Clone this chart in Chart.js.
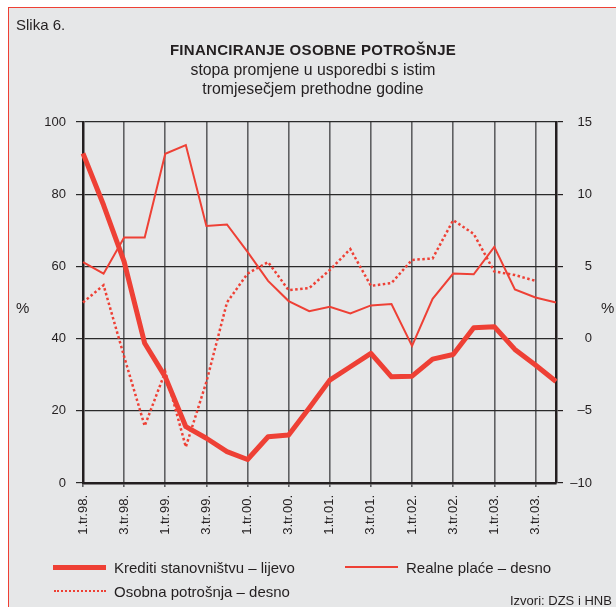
<!DOCTYPE html>
<html>
<head>
<meta charset="utf-8">
<script src="https://cdn.jsdelivr.net/npm/chart.js@4"></script>
<style>
  html, body { margin: 0; padding: 0; background: #fff; }
  #page { position: relative; width: 616px; height: 607px; overflow: hidden; font-family: "Liberation Sans", Arial, sans-serif; color: #231f20; }
  #frame { position: absolute; left: 8px; top: 7px; width: 640px; height: 640px; background: #e6e7e8; border-left: 1px solid #ee4035; border-top: 1px solid #ee4035; }
  canvas { position: absolute; left: 0; top: 0; }
  .t { position: absolute; white-space: nowrap; line-height: 1; }
  .c { left: 0; width: 626px; text-align: center; }
  .s { position: absolute; }
</style>
</head>
<body>
<div id="page">
  <div id="frame"></div>
  <canvas id="chart" width="616" height="607"></canvas>

  <div class="t" style="left:16px; top:17px; font-size:15px;">Slika 6.</div>
  <div class="t c" style="top:42px; font-size:15px; font-weight:bold; letter-spacing:0.3px;">FINANCIRANJE OSOBNE POTROŠNJE</div>
  <div class="t c" style="top:62px; font-size:15.8px;">stopa promjene u usporedbi s istim</div>
  <div class="t c" style="top:81px; font-size:15.8px;">tromjesečjem prethodne godine</div>

  <div class="t" style="left:16px; top:300px; font-size:15px;">%</div>
  <div class="t" style="left:601px; top:300px; font-size:15px;">%</div>

  <!-- legenda -->
  <div class="s" style="left:53px; top:565px; width:53px; height:5px; background:#ee4035;"></div>
  <div class="t" style="left:114px; top:560px; font-size:15px;">Krediti stanovništvu – lijevo</div>
  <div class="s" style="left:345px; top:566px; width:53px; height:2px; background:#ee4035;"></div>
  <div class="t" style="left:406px; top:560px; font-size:15px;">Realne plaće – desno</div>
  <div class="s" style="left:54px; top:590px; width:52px; height:0; border-top:2.5px dotted #ee4035;"></div>
  <div class="t" style="left:114px; top:584px; font-size:15px;">Osobna potrošnja – desno</div>
  <div class="t" style="left:510px; top:594px; font-size:13px;">Izvori: DZS i HNB</div>
</div>

<script>
// --- podaci (očitano sa slike) ---
const QUARTERS = [
    '1.tr.98.', '2.tr.98.', '3.tr.98.', '4.tr.98.',
    '1.tr.99.', '2.tr.99.', '3.tr.99.', '4.tr.99.',
    '1.tr.00.', '2.tr.00.', '3.tr.00.', '4.tr.00.',
    '1.tr.01.', '2.tr.01.', '3.tr.01.', '4.tr.01.',
    '1.tr.02.', '2.tr.02.', '3.tr.02.', '4.tr.02.',
    '1.tr.03.', '2.tr.03.', '3.tr.03.', '4.tr.03.'
];

// Krediti stanovništvu – lijeva os (%)
const KREDITI = [91.3, 77.0, 61.3, 38.7, 29.4, 15.6, 12.4, 8.7, 6.5, 12.8, 13.3, 20.8,
                 28.5, 32.2, 35.9, 29.4, 29.6, 34.3, 35.6, 43.0, 43.3, 37.0, 32.7, 28.1];

// Realne plaće – desna os (%)
const PLACE = [5.3, 4.5, 7.0, 7.0, 12.8, 13.4, 7.8, 7.9, 6.0, 4.0, 2.6, 1.9,
               2.2, 1.75, 2.3, 2.4, -0.5, 2.75, 4.5, 4.45, 6.35, 3.4, 2.85, 2.5];

// Osobna potrošnja – desna os (%)
const POTROSNJA = [2.5, 3.7, -1.25, -6.05, -2.3, -7.5, -3.0, 2.5, 4.5, 5.3, 3.35, 3.5,
                   4.75, 6.2, 3.65, 3.85, 5.45, 5.55, 8.2, 7.25, 4.65, 4.4, 4.0, null];

const LEFT_TICKS = { min: 0, max: 100, step: 20 };
const RIGHT_TICKS = { min: -10, max: 15, step: 5 };

const RED = '#ee4035';
const INK = '#231f20';
const FONT = '"Liberation Sans", Arial, sans-serif';

const ctx = document.getElementById('chart').getContext('2d');
new Chart(ctx, {
    type: 'line',
    data: {
        labels: QUARTERS,
        datasets: [
            {
                label: 'Krediti stanovništvu – lijevo',
                data: KREDITI,
                yAxisID: 'y',
                borderColor: RED,
                borderWidth: 5,
                borderJoinStyle: 'round',
                pointRadius: 0,
                tension: 0
            },
            {
                label: 'Realne plaće – desno',
                data: PLACE,
                yAxisID: 'y1',
                borderColor: RED,
                borderWidth: 2,
                pointRadius: 0,
                tension: 0
            },
            {
                label: 'Osobna potrošnja – desno',
                data: POTROSNJA,
                yAxisID: 'y1',
                borderColor: RED,
                borderWidth: 2.5,
                borderDash: [2.5, 2.5],
                pointRadius: 0,
                tension: 0
            }
        ]
    },
    options: {
        responsive: false,
        animation: false,
        devicePixelRatio: 1,
        layout: { padding: { top: 122, right: 24, bottom: 64, left: 0 } },
        plugins: {
            legend: { display: false },
            tooltip: { enabled: false }
        },
        scales: {
            x: {
                afterFit: s => { s.height = 60; },
                grid: {
                    color: c => (c.index % 2 === 0 ? '#5f6062' : 'transparent'),
                    lineWidth: 1.6,
                    tickLength: 4
                },
                border: { display: true, color: INK, width: 2.5 },
                ticks: {
                    autoSkip: false,
                    maxRotation: 90,
                    minRotation: 90,
                    padding: 8,
                    color: INK,
                    font: { family: FONT, size: 13 },
                    callback: function (val, i) {
                        return i % 2 === 0 ? this.getLabelForValue(val) : '';
                    }
                }
            },
            y: {
                position: 'left',
                min: LEFT_TICKS.min,
                max: LEFT_TICKS.max,
                afterFit: s => { s.width = 83; },
                grid: { color: '#2a2a2a', lineWidth: 1.2, tickLength: 7 },
                border: { display: true, color: INK, width: 2.5 },
                ticks: {
                    stepSize: LEFT_TICKS.step,
                    padding: 10,
                    color: INK,
                    font: { family: FONT, size: 13 }
                }
            },
            y1: {
                position: 'right',
                min: RIGHT_TICKS.min,
                max: RIGHT_TICKS.max,
                afterFit: s => { s.width = 36; },
                grid: { drawOnChartArea: false, color: INK, lineWidth: 1.2, tickLength: 7 },
                border: { display: true, color: INK, width: 2.5 },
                ticks: {
                    stepSize: RIGHT_TICKS.step,
                    crossAlign: 'far',
                    color: INK,
                    font: { family: FONT, size: 13 },
                    callback: v => String(v).replace('-', '–')
                }
            }
        }
    }
});
</script>
</body>
</html>
